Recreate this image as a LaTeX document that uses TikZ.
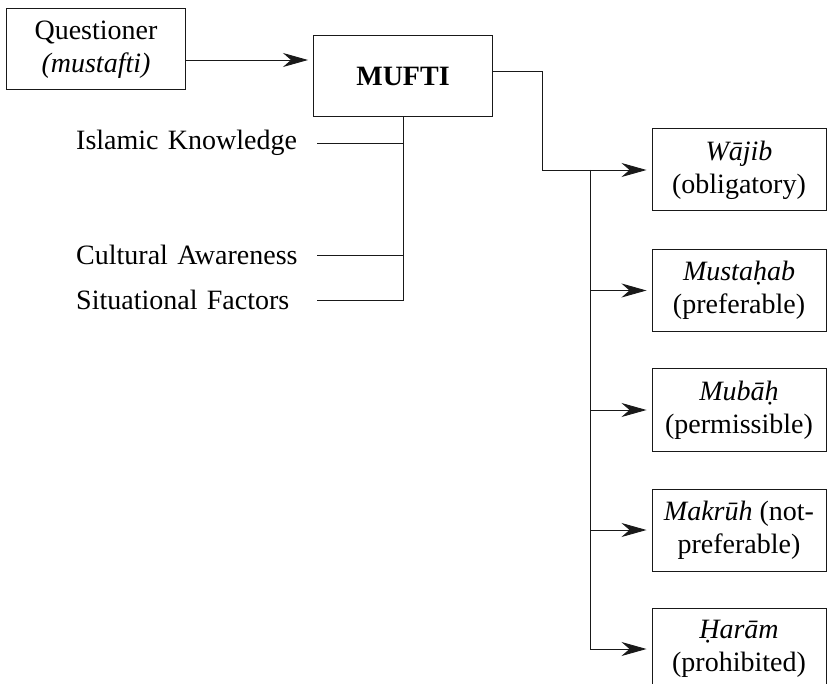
\documentclass[tikz,border=0pt]{standalone}
\usepackage{fontspec}
\setmainfont{Liberation Serif}
\usepackage{tikz}
\usetikzlibrary{arrows.meta, positioning}
\tikzstyle{actor} = [draw=black!90, line width=1pt, rectangle, inner sep=0pt, align=center, minimum width=179pt, minimum height=81pt]
\tikzstyle{ruling} = [draw=black!90, line width=1pt, rectangle, inner sep=0pt, align=center, minimum width=174pt, minimum height=82pt]
\tikzstyle{factor} = [inner sep=0pt, text width=241pt, align=left]
\tikzstyle{link} = [draw=black!90, line width=0.9pt]
\tikzstyle{flecha} = [link, -{Stealth[length=25pt, width=14pt, inset=8pt]}, shorten >=5pt]

\begin{document}
\begin{tikzpicture}[x=1pt, y={(0pt,-1pt)}, font=\fontsize{28}{33}\selectfont]
	\useasboundingbox (0,0) rectangle (827,684);
	\node[actor] (quest) at (96,49.5) {Questioner\\\textit{(mustafti)}};
	\node[actor] (mufti) at (403,76) {\textbf{MUFTI}};
	% factores
	\node[factor, anchor=west] (know) at (76,143) {Islamic Knowledge};
	\node[factor, anchor=west] (cult) at (76,255) {Cultural Awareness};
	\node[factor, anchor=west] (situ) at (76,300) {Situational Factors};
	% clasificaciones
	\node[ruling] (wajib) at (739,170) {\textit{Wājib}\\(obligatory)};
	\node[ruling] (mustahab) at (739,290.5) {\textit{Mustaḥab}\\(preferable)};
	\node[ruling] (mubah) at (739,410) {\textit{Mubāḥ}\\(permissible)};
	\node[ruling] (makruh) at (739,530) {\textit{Makrūh} (not-\\preferable)};
	\node[ruling] (haram) at (739,649) {\textit{Ḥarām}\\(prohibited)};
	\coordinate (split) at (590,0);

	\draw[flecha] ([yshift=-10.5pt]quest.east) -- ([yshift=-10.5pt]quest.east -| mufti.west);
	\draw[link] (mufti.south) -- (mufti.south |- situ.east) -- (situ.east);
	\draw[link] (know.east) -- (know.east -| mufti.south);
	\draw[link] (cult.east) -- (cult.east -| mufti.south);
	\draw[flecha] ([yshift=5pt]mufti.east) -- ++(49,0) |- (wajib.west);
	\draw[link] (split |- wajib.west) -- (split |- haram.west);
	\foreach \r in {mustahab, mubah, makruh, haram}
		\draw[flecha] (split |- \r.west) -- (\r.west);
\end{tikzpicture}
\end{document}
